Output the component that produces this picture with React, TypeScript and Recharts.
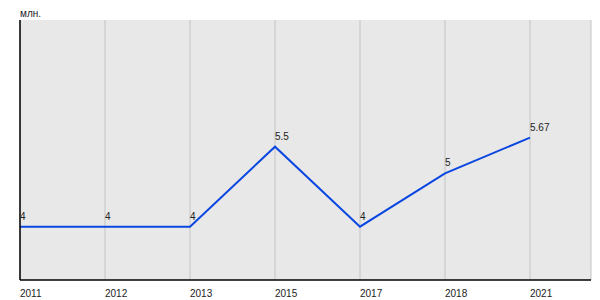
import React from 'react';
import { LineChart, Line, XAxis, YAxis, CartesianGrid, LabelList } from 'recharts';

const years = ['2011', '2012', '2013', '2015', '2017', '2018', '2021'];
const values = [4, 4, 4, 5.5, 4, 5, 5.67];
const valueLabels = ['4', '4', '4', '5.5', '4', '5', '5.67'];
const unitLabel = 'млн.';

const data = years.map((y, i) => ({ year: y, value: values[i], label: valueLabels[i] }));

const FONT = '"Liberation Sans", Arial, sans-serif';

const XTick = (props: any) => {
  const { x, y, payload } = props;
  return (
    <text x={x} y={y} dy={9} textAnchor="start" fontSize={10} fontFamily={FONT} fill="#222">
      {payload.value}
    </text>
  );
};

const PointLabel = (props: any) => {
  const { x, y, value } = props;
  return (
    <text x={x} y={y - 7} textAnchor="start" fontSize={10} fontFamily={FONT} fill="#222">
      {value}
    </text>
  );
};

const UnitLabel = (props: any) => {
  const vb = props.viewBox || {};
  return (
    <text x={(vb.x || 0) + (vb.width || 0)} y={(vb.y || 0) - 3} textAnchor="start" fontSize={10} fontFamily={FONT} fill="#222">
      {unitLabel}
    </text>
  );
};

export default function App() {
  return (
    <div style={{ width: 592, height: 292 }}>
      <LineChart width={592} height={292} data={data} margin={{ top: 12, right: 9, bottom: 0, left: 0 }}>
        <CartesianGrid horizontal={false} stroke="#c4c4c4" fill="#e8e8e8" />
        <XAxis
          dataKey="year"
          height={20}
          padding={{ left: 0, right: 61 }}
          tickLine={false}
          axisLine={{ stroke: '#000', strokeWidth: 1.5 }}
          tick={<XTick />}
          interval={0}
        />
        <YAxis
          width={12}
          domain={[3, 7.875]}
          tick={false}
          tickLine={false}
          axisLine={{ stroke: '#000', strokeWidth: 1.5 }}
          label={<UnitLabel />}
        />
        <Line
          type="linear"
          dataKey="value"
          stroke="#0a47e0"
          strokeWidth={2}
          dot={false}
          activeDot={false}
          isAnimationActive={false}
        >
          <LabelList dataKey="label" content={<PointLabel />} />
        </Line>
      </LineChart>
    </div>
  );
}
